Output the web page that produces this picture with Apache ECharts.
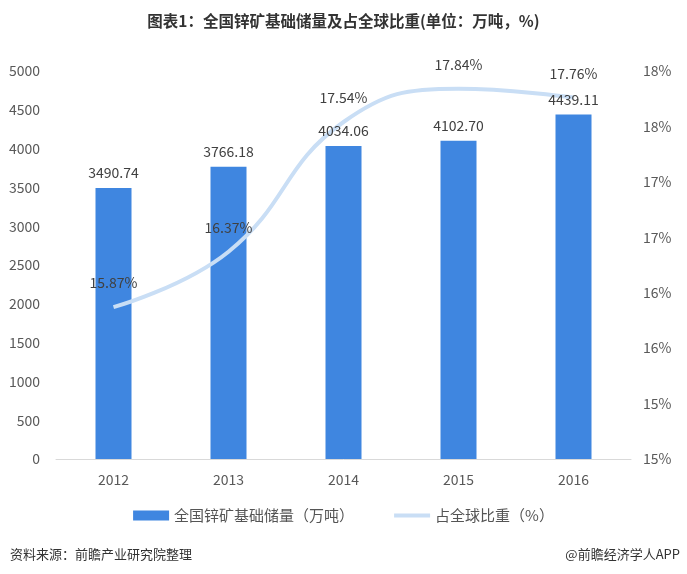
<!DOCTYPE html>
<html><head><meta charset="utf-8">
<script src="https://cdn.jsdelivr.net/npm/echarts@6/dist/echarts.min.js"></script>
<style>html,body{margin:0;padding:0;background:#fff}#c{width:687px;height:574px}</style>
</head><body><div id="c"></div>
<script>
const categories = ['2012','2013','2014','2015','2016'];
const reserves = [3490.74, 3766.18, 4034.06, 4102.70, 4439.11];
const shares = [15.87, 16.37, 17.54, 17.84, 17.76];
const leftTicks = [0,500,1000,1500,2000,2500,3000,3500,4000,4500,5000];

const chart = echarts.init(document.getElementById('c'));
const font = '"Microsoft YaHei","Noto Sans CJK SC",sans-serif';
const lineColor = '#c9def5';
chart.setOption({
  animation:false,
  textStyle:{fontFamily:font},
  title:[
    {text:'图表1：全国锌矿基础储量及占全球比重(单位：万吨，%)',left:'center',top:8,
     textStyle:{fontSize:15.5,fontWeight:'bold',color:'#333',fontFamily:font}},
    {text:'资料来源：前瞻产业研究院整理',left:5,top:543,textStyle:{fontSize:13,fontWeight:'normal',color:'#333',fontFamily:font}},
    {text:'@前瞻经济学人APP',right:2,top:543,textStyle:{fontSize:13,fontWeight:'normal',color:'#333',fontFamily:font}}
  ],
  legend:{bottom:46,left:'center',itemGap:40,itemWidth:36,itemHeight:10,
    textStyle:{fontSize:15,color:'#555',fontFamily:font},
    data:[{name:'全国锌矿基础储量（万吨）',icon:'rect'},
          {name:'占全球比重（%）',icon:'path://M0,0L36,0L36,4L0,4Z',itemStyle:{color:lineColor}}]},
  grid:{left:56,right:56,top:71,bottom:115},
  xAxis:{type:'category',data:categories,
    axisLine:{lineStyle:{color:'#d9d9d9'}},axisTick:{show:false},
    axisLabel:{fontSize:14,color:'#595959',margin:14}},
  yAxis:[
    {type:'value',min:leftTicks[0],max:leftTicks[leftTicks.length-1],interval:500,
     splitLine:{show:false},axisLine:{show:false},axisTick:{show:false},
     axisLabel:{fontSize:14,color:'#595959',margin:16,formatter:v=>String(v)}},
    {type:'value',min:14.5,max:18,interval:0.5,
     splitLine:{show:false},axisLine:{show:false},axisTick:{show:false},
     axisLabel:{fontSize:14,color:'#595959',margin:12,formatter:v=>Math.round(v)+'%'}}
  ],
  series:[
    {name:'全国锌矿基础储量（万吨）',type:'bar',data:reserves,barWidth:36,z:2,
     itemStyle:{color:'#3f86e0'}},
    {name:'占全球比重（%）',type:'line',yAxisIndex:1,data:shares,smooth:0.45,z:3,
     symbol:'circle',symbolSize:2,showSymbol:true,
     lineStyle:{color:lineColor,width:4},itemStyle:{color:'rgba(0,0,0,0)'},
     label:{show:true,position:'top',distance:16,fontSize:14,color:'#404040',formatter:p=>p.value.toFixed(2)+'%'}},
    {name:'barLabels',type:'bar',data:reserves,barWidth:36,barGap:'-100%',z:5,silent:true,
     itemStyle:{color:'rgba(0,0,0,0)'},
     label:{show:true,position:'top',distance:8,fontSize:14,color:'#404040',formatter:p=>p.value.toFixed(2)}}
  ]
});
</script></body></html>
